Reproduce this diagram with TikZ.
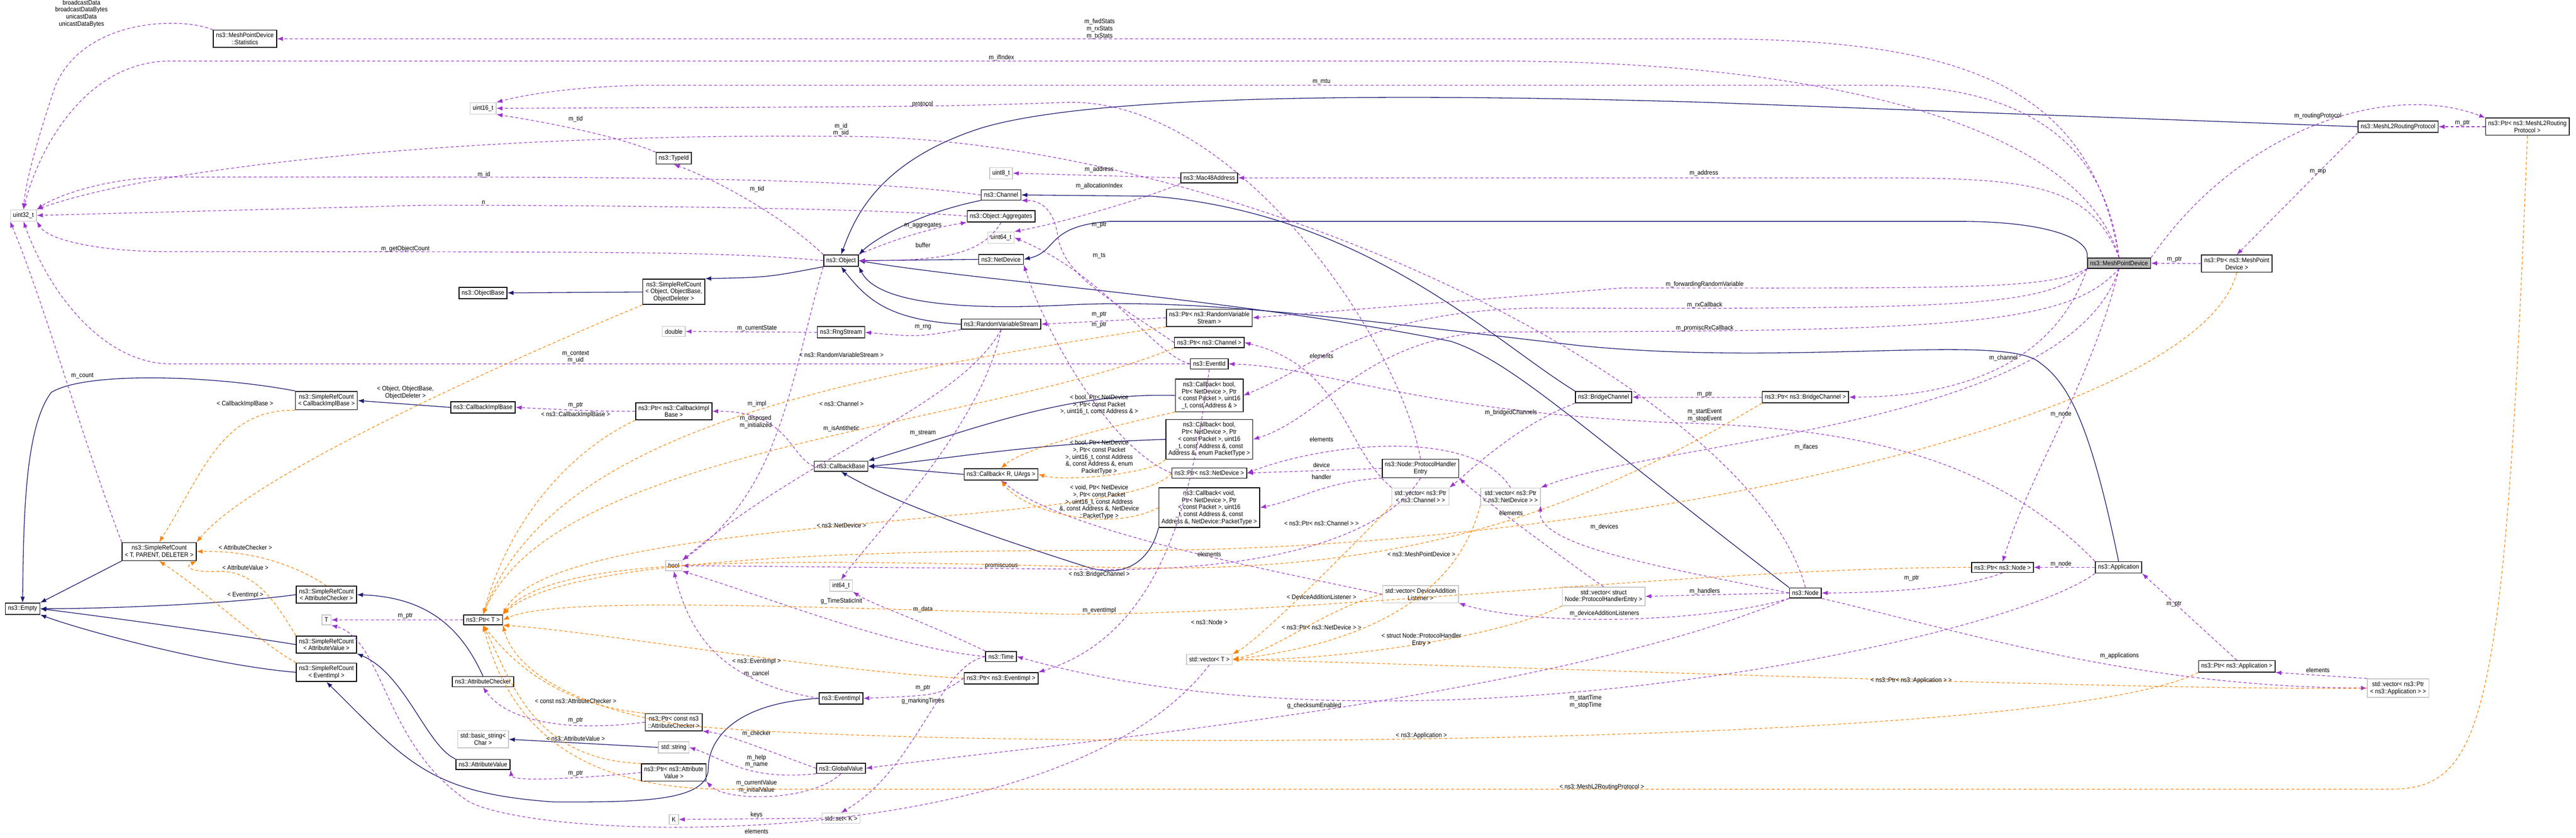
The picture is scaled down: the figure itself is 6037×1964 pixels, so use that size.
\documentclass[tikz,border=0pt]{standalone}
\usepackage{fontspec}
\setmainfont{Liberation Sans}[FakeStretch=0.9]
\usetikzlibrary{arrows.meta}
\begin{document}
\begin{tikzpicture}[x=0.01cm,y=-0.01cm,
  every node/.style={font=\fontsize{4.3}{4.7}\selectfont},
  cls/.style={draw=black,fill=white,line width=0.55pt,inner sep=1.8pt,minimum height=6.6pt,align=center},
  ext/.style={draw=gray!45,fill=white,line width=0.5pt,inner sep=1.8pt,minimum height=6.6pt,align=center},
  mainc/.style={cls,fill=gray!55},
  lab/.style={inner sep=0.5pt,align=center},
  inh/.style={draw={rgb,255:red,25;green,25;blue,112},line width=0.45pt,-{Latex[length=4pt,width=3pt]}},
  use/.style={draw={rgb,255:red,154;green,50;blue,205},line width=0.4pt,dash pattern=on 2pt off 1.5pt,-{Latex[length=4pt,width=3pt]}},
  tpl/.style={draw=orange,line width=0.4pt,dash pattern=on 2pt off 1.5pt,-{Latex[length=4pt,width=3pt]}}]
\useasboundingbox (0,0) rectangle (6037,1964);
% ---------- nodes
\node[cls] (stats) at (574,91) {ns3::MeshPointDevice\\::Statistics};
\node[ext] (u32) at (55,505) {uint32\_t};
\node[ext] (u16) at (1132,254) {uint16\_t};
\node[cls] (typeid) at (1579,371) {ns3::TypeId};
\node[ext] (u8) at (2346,406) {uint8\_t};
\node[cls] (mac) at (2834,417) {ns3::Mac48Address};
\node[cls] (chan) at (2346,457) {ns3::Channel};
\node[cls] (aggr) at (2346,507) {ns3::Object::Aggregates};
\node[ext] (u64) at (2346,557) {uint64\_t};
\node[cls] (obj) at (1971,611) {ns3::Object};
\node[cls] (netdev) at (2346,608) {ns3::NetDevice};
\node[cls] (objbase) at (1132,687) {ns3::ObjectBase};
\node[cls] (srcobj) at (1579,684) {ns3::SimpleRefCount\\{}< Object, ObjectBase,\\ObjectDeleter >};
\node[cls] (ptrrvs) at (2834,745) {ns3::Ptr< ns3::RandomVariable\\Stream >};
\node[cls] (rvs) at (2346,760) {ns3::RandomVariableStream};
\node[ext] (dbl) at (1579,777) {double};
\node[cls] (rng) at (1971,779) {ns3::RngStream};
\node[cls] (ptrchan) at (2834,803) {ns3::Ptr< ns3::Channel >};
\node[cls] (eventid) at (2834,853) {ns3::EventId};
\node[cls] (cbrx) at (2834,927) {ns3::Callback< bool,\\ Ptr< NetDevice >, Ptr\\{}< const Packet >, uint16\\\_t, const Address \& >};
\node[cls] (srccib) at (765,939) {ns3::SimpleRefCount\\{}< CallbackImplBase >};
\node[cls] (cib) at (1132,955) {ns3::CallbackImplBase};
\node[cls] (ptrcib) at (1579,964) {ns3::Ptr< ns3::CallbackImpl\\Base >};
\node[cls] (cbprom) at (2834,1030) {ns3::Callback< bool,\\ Ptr< NetDevice >, Ptr\\{}< const Packet >, uint16\\\_t, const Address \&, const\\ Address \&, enum PacketType >};
\node[cls] (cbbase) at (1971,1093) {ns3::CallbackBase};
\node[cls] (cbR) at (2346,1112) {ns3::Callback< R, UArgs >};
\node[cls] (ptrnd) at (2834,1109) {ns3::Ptr< ns3::NetDevice >};
\node[cls] (cbvoid) at (2834,1190) {ns3::Callback< void,\\ Ptr< NetDevice >, Ptr\\{}< const Packet >, uint16\\\_t, const Address \&, const\\ Address \&, NetDevice::PacketType >};
\node[cls] (phe) at (3329,1098) {ns3::Node::ProtocolHandler\\Entry};
\node[ext] (vecchan) at (3329,1164) {std::vector< ns3::Ptr\\{}< ns3::Channel > >};
\node[ext] (vecnd) at (3540,1164) {std::vector< ns3::Ptr\\{}< ns3::NetDevice > >};
\node[cls] (bridge) at (3758,931) {ns3::BridgeChannel};
\node[cls] (ptrbridge) at (4231,931) {ns3::Ptr< ns3::BridgeChannel >};
\node[mainc] (mpd) at (4966,617) {ns3::MeshPointDevice};
\node[cls] (ptrmpd) at (5242,618) {ns3::Ptr< ns3::MeshPoint\\Device >};
\node[cls] (l2) at (5620,297) {ns3::MeshL2RoutingProtocol};
\node[cls] (ptrl2) at (5923,297) {ns3::Ptr< ns3::MeshL2Routing\\Protocol >};
\node[cls] (srctpd) at (373,1293) {ns3::SimpleRefCount\\{}< T, PARENT, DELETER >};
\node[cls] (empty) at (53,1427) {ns3::Empty};
\node[cls] (srcac) at (765,1394) {ns3::SimpleRefCount\\{}< AttributeChecker >};
\node[ext] (T) at (765,1453) {T};
\node[cls] (ptrT) at (1132,1453) {ns3::Ptr< T >};
\node[cls] (srcav) at (765,1511) {ns3::SimpleRefCount\\{}< AttributeValue >};
\node[cls] (srcei) at (765,1576) {ns3::SimpleRefCount\\{}< EventImpl >};
\node[cls] (ac) at (1132,1598) {ns3::AttributeChecker};
\node[ext] (bstr) at (1132,1733) {std::basic\_string<\\ Char >};
\node[cls] (av) at (1132,1792) {ns3::AttributeValue};
\node[ext] (bool) at (1579,1326) {bool};
\node[ext] (i64) at (1971,1373) {int64\_t};
\node[cls] (time) at (2346,1539) {ns3::Time};
\node[cls] (ptrei) at (2346,1590) {ns3::Ptr< ns3::EventImpl >};
\node[ext] (vecT) at (2834,1546) {std::vector< T >};
\node[cls] (ei) at (1971,1637) {ns3::EventImpl};
\node[cls] (ptrcac) at (1579,1693) {ns3::Ptr< const ns3\\::AttributeChecker >};
\node[ext] (str) at (1579,1752) {std::string};
\node[cls] (gv) at (1971,1801) {ns3::GlobalValue};
\node[cls] (ptrav) at (1579,1811) {ns3::Ptr< ns3::Attribute\\Value >};
\node[ext] (set) at (1971,1918) {std::set< K >};
\node[ext] (K) at (1579,1921) {K};
\node[ext] (vecdal) at (3329,1393) {std::vector< DeviceAddition\\Listener >};
\node[ext] (vecphe) at (3758,1398) {std::vector< struct\\ Node::ProtocolHandlerEntry >};
\node[cls] (node) at (4231,1390) {ns3::Node};
\node[cls] (ptrnode) at (4693,1330) {ns3::Ptr< ns3::Node >};
\node[cls] (app) at (4965,1330) {ns3::Application};
\node[cls] (ptrapp) at (5242,1562) {ns3::Ptr< ns3::Application >};
\node[ext] (vecapp) at (5620,1613) {std::vector< ns3::Ptr\\{}< ns3::Application > >};
% ---------- inheritance
\draw[inh] (srcobj) -- (objbase);
\draw[inh] (obj.south west) .. controls (1800,650) .. (srcobj.north east);
\draw[inh] (chan.south west) .. controls (2150,500) and (2050,560) .. (obj.north east);
\draw[inh] (netdev.west) -- (obj.east);
\draw[inh] (rvs.west) .. controls (2080,750) and (2030,700) .. (obj.south);
\draw[inh] (l2.west) -- (4000,240) .. controls (3000,210) and (2500,240) .. (2300,300) .. controls (2050,380) and (2000,520) .. (obj.north);
\draw[inh] (node.north west) .. controls (3700,1000) and (3550,850) .. (3400,800) .. controls (2900,700) and (2300,660) .. (obj.east);
\draw[inh] (app.north) .. controls (4900,1000) and (4850,900) .. (4780,850) .. controls (4700,780) and (4200,860) .. (3700,810) .. controls (3100,740) and (2800,700) .. (2500,715) .. controls (2200,730) and (2050,700) .. (obj.south east);
\draw[inh] (bridge.north west) .. controls (3500,800) and (3200,500) .. (2700,460) -- (chan.east);
\draw[inh] (mpd.north west) .. controls (4900,560) and (4800,520) .. (4600,519) -- (2600,519) .. controls (2450,530) and (2480,590) .. (netdev.east);
\draw[inh] (cib.west) -- (srccib.east);
\draw[inh] (srccib.north west) .. controls (500,880) and (200,870) .. (120,920) .. controls (60,1000) and (55,1200) .. (empty.north);
\draw[inh] (srctpd.south west) -- (empty.north east);
\draw[inh] (srcac.west) .. controls (500,1420) and (200,1427) .. (empty.east);
\draw[inh] (srcav.west) .. controls (500,1480) and (200,1440) .. (empty.east);
\draw[inh] (srcei.west) .. controls (500,1560) and (200,1480) .. (empty.south east);
\draw[inh] (ac.north) .. controls (1080,1470) and (1000,1400) .. (srcac.east);
\draw[inh] (av.north west) .. controls (1000,1750) and (950,1580) .. (srcav.south east);
\draw[inh] (ei.west) .. controls (1700,1650) and (1660,1750) .. (1660,1800) .. controls (1660,1880) and (1500,1880) .. (1300,1880) .. controls (1000,1860) and (950,1780) .. (srcei.south);
\draw[inh] (str.west) -- (bstr.east);
\draw[inh] (cbrx.west) .. controls (2500,920) and (2300,1000) .. (cbbase.north east);
\draw[inh] (cbprom.west) .. controls (2400,1040) and (2200,1080) .. (cbbase.east);
\draw[inh] (cbR.west) -- (cbbase.east);
\draw[inh] (cbvoid.south west) .. controls (2700,1300) and (2650,1360) .. (2550,1330) .. controls (2300,1250) and (2100,1180) .. (cbbase.south);
% ---------- use (purple)
\draw[use] (mpd.north) .. controls (4900,200) and (4600,91) .. (4000,91) -- (stats.east);
\node[lab] (l1) at (2577,68) {m\_fwdStats\\m\_rxStats\\m\_txStats};
\draw[use] (stats.north west) .. controls (430,40) and (200,40) .. (130,200) .. controls (80,350) and (60,430) .. (u32.north);
\node[lab] (l2lab) at (191,32) {broadcastData\\broadcastDataBytes\\unicastData\\unicastDataBytes};
\draw[use] (mpd.north) .. controls (4880,300) and (4300,143) .. (3500,143) -- (400,143) .. controls (200,143) and (90,350) .. (u32.north);
\node[lab] (l3) at (2347,135) {m\_ifIndex};
\draw[use] (mpd.north) .. controls (4930,300) and (4700,200) .. (4400,200) -- (1500,200) .. controls (1300,205) and (1200,230) .. (u16.north east);
\node[lab] (l4) at (3097,192) {m\_mtu};
\draw[use] (phe.north) .. controls (3280,800) and (2900,230) .. (2500,240) .. controls (2200,250) .. (u16.east);
\node[lab] (l5) at (2162,244) {protocol};
\draw[use] (node.north) .. controls (4100,900) and (2900,330) .. (2000,320) .. controls (1200,310) and (400,380) .. (u32.north east);
\node[lab] (l6) at (1971,304) {m\_id\\m\_sid};
\draw[use] (typeid.north west) .. controls (1450,320) and (1300,290) .. (u16.south east);
\node[lab] (l7) at (1349,279) {m\_tid};
\draw[use] (obj.north west) .. controls (1850,520) and (1700,430) .. (typeid.south);
\node[lab] (l8) at (1774,443) {m\_tid};
\draw[use] (mpd.north) .. controls (4900,430) and (4750,417) .. (4400,417) -- (mac.east);
\node[lab] (l9) at (3993,406) {m\_address};
\draw[use] (mac.west) -- (u8.east);
\node[lab] (l10) at (2576,398) {m\_address};
\draw[use] (mac.south west) .. controls (2700,460) and (2500,520) .. (u64.north east);
\node[lab] (l11) at (2576,436) {m\_allocationIndex};
\draw[use] (chan.west) .. controls (2100,430) and (1800,415) .. (1000,415) -- (400,415) .. controls (250,415) and (130,460) .. (u32.north east);
\node[lab] (l12) at (1134,410) {m\_id};
\draw[use] (aggr.west) .. controls (2100,490) and (1500,481) .. (1000,481) -- (u32.east);
\node[lab] (l13) at (1133,475) {n};
\draw[use] (obj.north east) .. controls (2050,580) and (2150,540) .. (aggr.south west);
\node[lab] (l14) at (2163,529) {m\_aggregates};
\draw[use] (aggr.south) .. controls (2300,600) and (2200,611) .. (obj.east);
\node[lab] (l15) at (2163,575) {buffer};
\draw[use] (obj.west) .. controls (1700,590) and (1500,590) .. (400,590) .. controls (220,590) and (110,560) .. (u32.south east);
\node[lab] (l16) at (950,584) {m\_getObjectCount};
\draw[use] (ptrchan.west) .. controls (2600,700) and (2500,650) .. (2480,560) .. controls (2470,480) and (2430,470) .. (chan.south east);
\node[lab] (l17) at (2576,527) {m\_ptr};
\draw[use] (eventid.west) .. controls (2700,830) and (2600,650) .. (u64.east);
\node[lab] (l18) at (2576,600) {m\_ts};
\draw[use] (ptrnd.west) .. controls (2600,1050) and (2450,780) .. (netdev.south east);
\node[lab] (l19) at (2576,762) {m\_ptr};
\draw[use] (mpd.south west) .. controls (4800,680) and (4600,675) .. (3800,675) -- (ptrrvs.east);
\node[lab] (l20) at (3995,667) {m\_forwardingRandomVariable};
\draw[use] (mpd.south west) .. controls (4800,720) and (4600,725) .. (3600,722) .. controls (3200,730) and (3100,850) .. (cbrx.east);
\node[lab] (l21) at (3995,715) {m\_rxCallback};
\draw[use] (mpd.south) .. controls (4850,760) and (4600,778) .. (3500,778) .. controls (3200,790) and (3100,980) .. (cbprom.east);
\node[lab] (l22) at (3995,770) {m\_promiscRxCallback};
\draw[use] (ptrrvs.west) -- (rvs.east);
\node[lab] (l23) at (2576,737) {m\_ptr};
\draw[use] (rvs.south west) .. controls (2150,790) .. (rng.east);
\node[lab] (l24) at (2163,767) {m\_rng};
\draw[use] (rng.west) -- (dbl.east);
\node[lab] (l25) at (1774,769) {m\_currentState};
\draw[use] (rvs.south) .. controls (2250,950) and (1900,1060) .. (bool.north east);
\node[lab] (l26) at (1972,1005) {m\_isAntithetic};
\draw[use] (rvs.south) .. controls (2300,1000) and (2050,1250) .. (i64.north);
\node[lab] (l27) at (2163,1015) {m\_stream};
\draw[use] (eventid.west) -- (400,853) .. controls (250,853) and (120,700) .. (u32.south);
\node[lab] (l28) at (1349,837) {m\_context\\m\_uid};
\draw[use] (srctpd.north west) .. controls (200,1050) and (100,700) .. (u32.south west);
\node[lab] (l29) at (193,881) {m\_count};
\draw[use] (ptrcib.west) .. controls (1400,964) .. (cib.east);
\node[lab] (l30) at (1349,950) {m\_ptr};
\draw[use] (cbbase.west) .. controls (1850,1070) and (1850,964) .. (ptrcib.east);
\node[lab] (l31) at (1774,947) {m\_impl};
\draw[use] (obj.south west) .. controls (1850,900) and (1830,1150) .. (bool.north east);
\node[lab] (l32) at (1771,989) {m\_disposed\\m\_initialized};
\draw[use] (ptrT.west) -- (T.east);
\node[lab] (l33) at (950,1444) {m\_ptr};
\draw[use] (ptrcac.west) .. controls (1300,1720) and (1180,1680) .. (ac.south);
\node[lab] (l34) at (1349,1689) {m\_ptr};
\draw[use] (ptrav.west) .. controls (1300,1830) and (1200,1830) .. (av.south east);
\node[lab] (l35) at (1349,1813) {m\_ptr};
\draw[use] (time.north west) .. controls (2150,1450) and (2050,1420) .. (i64.south east);
\node[lab] (l36) at (2163,1428) {m\_data};
\draw[use] (time.west) .. controls (2100,1520) and (1800,1400) .. (bool.south east);
\node[lab] (l37) at (1972,1409) {g\_TimeStaticInit};
\draw[use] (time.west) .. controls (2200,1560) and (2150,1800) .. (set.north);
\node[lab] (l38) at (2163,1644) {g\_markingTimes};
\draw[use] (ei.west) .. controls (1700,1600) and (1620,1500) .. (bool.south);
\node[lab] (l39) at (1773,1579) {m\_cancel};
\draw[use] (ptrei.west) .. controls (2200,1630) .. (ei.east);
\node[lab] (l40) at (2163,1613) {m\_ptr};
\draw[use] (eventid.south) .. controls (2800,1100) and (2750,1480) .. (ptrei.north east);
\node[lab] (l41) at (2576,1431) {m\_eventImpl};
\draw[use] (phe.south) .. controls (3250,1250) and (3000,1335) .. (2600,1335) -- (bool.east);
\node[lab] (l42) at (2347,1326) {promiscuous};
\draw[use] (gv.west) .. controls (1800,1760) and (1700,1720) .. (ptrcac.south east);
\node[lab] (l43) at (1773,1719) {m\_checker};
\draw[use] (gv.south west) .. controls (1750,1830) and (1700,1780) .. (str.east);
\node[lab] (l44) at (1773,1784) {m\_help\\m\_name};
\draw[use] (gv.south) .. controls (1900,1880) and (1700,1880) .. (ptrav.south east);
\node[lab] (l45) at (1773,1844) {m\_currentValue\\m\_initialValue};
\draw[use] (set.west) -- (K.east);
\node[lab] (l46) at (1773,1911) {keys};
\draw[use] (vecT.south) .. controls (2500,2000) and (1300,1980) .. (1100,1880) .. controls (900,1750) and (900,1500) .. (T.south east);
\node[lab] (l47) at (1773,1949) {elements};
\draw[use] (node.south west) .. controls (3600,1650) and (2400,1750) .. (gv.east);
\node[lab] (l48) at (3080,1654) {g\_checksumEnabled};
\draw[use] (app.south west) .. controls (4700,1500) and (3300,1800) .. (time.east);
\node[lab] (l49) at (3716,1645) {m\_startTime\\m\_stopTime};
\draw[use] (app.west) -- (ptrnode.east);
\node[lab] (l50) at (4830,1322) {m\_node};
\draw[use] (ptrnode.south) .. controls (4600,1380) and (4400,1390) .. (node.east);
\node[lab] (l51) at (4480,1356) {m\_ptr};
\draw[use] (mpd.south) .. controls (4900,900) and (4760,1100) .. (ptrnode.north);
\node[lab] (l52) at (4830,971) {m\_node};
\draw[use] (node.south east) .. controls (4600,1480) and (5000,1610) .. (vecapp.west);
\node[lab] (l53) at (4967,1537) {m\_applications};
\draw[use] (ptrapp.north) -- (app.south east);
\node[lab] (l54) at (5095,1416) {m\_ptr};
\draw[use] (vecapp.north west) -- (ptrapp.south east);
\node[lab] (l55) at (5432,1571) {elements};
\draw[use] (app.north west) .. controls (4650,1050) and (4300,1000) .. (3900,990) .. controls (3300,960) and (3100,860) .. (eventid.east);
\node[lab] (l56) at (3995,974) {m\_startEvent\\m\_stopEvent};
\draw[use] (mpd.north east) .. controls (5250,300) and (5600,190) .. (ptrl2.north west);
\node[lab] (l57) at (5432,272) {m\_routingProtocol};
\draw[use] (ptrl2.west) -- (l2.east);
\node[lab] (l58) at (5771,288) {m\_ptr};
\draw[use] (l2.south west) -- (ptrmpd.north);
\node[lab] (l59) at (5432,403) {m\_mp};
\draw[use] (ptrmpd.west) -- (mpd.east);
\node[lab] (l60) at (5096,608) {m\_ptr};
\draw[use] (mpd.south west) .. controls (4800,900) and (4500,931) .. (ptrbridge.east);
\node[lab] (l61) at (4695,839) {m\_channel};
\draw[use] (ptrbridge.west) -- (bridge.east);
\node[lab] (l62) at (3995,924) {m\_ptr};
\draw[use] (bridge.south west) .. controls (3550,1000) and (3450,1100) .. (vecchan.north east);
\node[lab] (l63) at (3541,968) {m\_bridgedChannels};
\draw[use] (vecchan.north west) .. controls (3150,1050) and (3150,860) .. (ptrchan.east);
\node[lab] (l64) at (3097,834) {elements};
\draw[use] (vecnd.north) .. controls (3450,1000) and (3100,1040) .. (ptrnd.east);
\node[lab] (l65) at (3097,1030) {elements};
\draw[use] (phe.west) -- (ptrnd.east);
\node[lab] (l66) at (3097,1090) {device};
\draw[use] (phe.south west) .. controls (3100,1130) and (3050,1170) .. (cbvoid.east);
\node[lab] (l67) at (3097,1118) {handler};
\draw[use] (mpd.south) .. controls (4850,1000) and (3900,1030) .. (vecnd.north east);
\node[lab] (l68) at (4233,1048) {m\_ifaces};
\draw[use] (node.west) .. controls (3900,1330) and (3600,1280) .. (vecnd.south east);
\node[lab] (l69) at (3760,1235) {m\_devices};
\draw[use] (node.west) -- (vecphe.east);
\node[lab] (l70) at (3995,1386) {m\_handlers};
\draw[use] (node.south west) .. controls (4000,1460) and (3600,1470) .. (vecdal.south east);
\node[lab] (l71) at (3760,1438) {m\_deviceAdditionListeners};
\draw[use] (vecphe.north) .. controls (3650,1300) and (3450,1150) .. (phe.south east);
\node[lab] (l72) at (3541,1203) {elements};
\draw[use] (vecdal.west) .. controls (3000,1340) and (2500,1250) .. (cbR.south);
\node[lab] (l73) at (2834,1299) {elements};
% ---------- templates (orange)
\draw[tpl] (srcobj.south west) .. controls (1300,800) and (600,1100) .. (srctpd.north east);
\node[lab] (t1) at (950,920) {< Object, ObjectBase,\\ObjectDeleter >};
\draw[tpl] (srccib.south west) .. controls (520,960) and (480,1100) .. (srctpd.north);
\node[lab] (t2) at (574,947) {< CallbackImplBase >};
\draw[tpl] (srcac.north) .. controls (700,1330) and (600,1290) .. (srctpd.east);
\node[lab] (t3) at (575,1283) {< AttributeChecker >};
\draw[tpl] (srcav.north west) .. controls (650,1420) and (600,1330) .. (500,1340) .. controls (450,1340) and (430,1330) .. (srctpd.south east);
\node[lab] (t4) at (575,1331) {< AttributeValue >};
\draw[tpl] (srcei.north west) .. controls (600,1500) and (500,1400) .. (srctpd.south);
\node[lab] (t5) at (575,1395) {< EventImpl >};
\draw[tpl] (ptrrvs.south west) .. controls (2000,880) and (1300,1000) .. (ptrT.north);
\node[lab] (t6) at (1972,832) {< ns3::RandomVariableStream >};
\draw[tpl] (ptrchan.south west) .. controls (2300,1000) and (1300,1050) .. (ptrT.north);
\node[lab] (t7) at (1972,947) {< ns3::Channel >};
\draw[tpl] (ptrnd.west) .. controls (2650,1240) and (1300,1200) .. (ptrT.north east);
\node[lab] (t8) at (1972,1232) {< ns3::NetDevice >};
\draw[tpl] (ptrbridge.south west) .. controls (3700,1200) and (3300,1350) .. (2600,1330) .. controls (1800,1310) and (1300,1300) .. (ptrT.north east);
\node[lab] (t9) at (2576,1346) {< ns3::BridgeChannel >};
\draw[tpl] (ptrnode.west) .. controls (4000,1330) and (3100,1440) .. (2500,1440) .. controls (1800,1420) and (1300,1400) .. (ptrT.east);
\node[lab] (t10) at (2834,1459) {< ns3::Node >};
\draw[tpl] (ptrei.west) .. controls (1900,1570) and (1400,1480) .. (ptrT.south east);
\node[lab] (t11) at (1773,1551) {< ns3::EventImpl >};
\draw[tpl] (ptrcib.south west) .. controls (1350,1050) and (1200,1200) .. (ptrT.north);
\node[lab] (t12) at (1349,972) {< ns3::CallbackImplBase >};
\draw[tpl] (ptrcac.north west) .. controls (1300,1650) and (1200,1550) .. (ptrT.south);
\node[lab] (t13) at (1349,1643) {< const ns3::AttributeChecker >};
\draw[tpl] (ptrav.north west) .. controls (1250,1780) and (1200,1600) .. (ptrT.south);
\node[lab] (t14) at (1349,1731) {< ns3::AttributeValue >};
\draw[tpl] (ptrmpd.south) .. controls (5150,1000) and (3700,1300) .. (2600,1290) .. controls (1800,1290) and (1300,1330) .. (ptrT.north east);
\node[lab] (t15) at (3331,1299) {< ns3::MeshPointDevice >};
\draw[tpl] (ptrapp.south west) .. controls (4800,1760) and (2200,1760) .. (1600,1700) .. controls (1300,1650) and (1200,1550) .. (ptrT.south east);
\node[lab] (t16) at (3331,1725) {< ns3::Application >};
\draw[tpl] (ptrl2.south) .. controls (5870,1700) and (5820,1850) .. (5600,1850) -- (1700,1850) .. controls (1300,1850) and (1180,1650) .. (ptrT.south);
\node[lab] (t17) at (3754,1845) {< ns3::MeshL2RoutingProtocol >};
\draw[tpl] (cbrx.south west) .. controls (2600,1000) and (2400,1050) .. (cbR.north);
\node[lab] (t18) at (2576,949) {< bool, Ptr< NetDevice\\>, Ptr< const Packet\\>, uint16\_t, const Address \& >};
\draw[tpl] (cbprom.south west) .. controls (2700,1110) and (2500,1130) .. (cbR.east);
\node[lab] (t19) at (2576,1072) {< bool, Ptr< NetDevice\\>, Ptr< const Packet\\>, uint16\_t, const Address\\\&, const Address \&, enum\\PacketType >};
\draw[tpl] (cbvoid.west) .. controls (2600,1250) and (2400,1200) .. (cbR.south);
\node[lab] (t20) at (2576,1177) {< void, Ptr< NetDevice\\>, Ptr< const Packet\\>, uint16\_t, const Address\\\&, const Address \&, NetDevice\\::PacketType >};
\draw[tpl] (vecchan.south west) .. controls (3150,1300) and (2950,1500) .. (vecT.north east);
\node[lab] (t21) at (3097,1227) {< ns3::Ptr< ns3::Channel > >};
\draw[tpl] (vecnd.south west) .. controls (3400,1450) and (3100,1520) .. (vecT.east);
\node[lab] (t22) at (3097,1471) {< ns3::Ptr< ns3::NetDevice > >};
\draw[tpl] (vecdal.west) .. controls (3100,1430) and (3000,1520) .. (vecT.east);
\node[lab] (t23) at (3097,1399) {< DeviceAdditionListener >};
\draw[tpl] (vecphe.south west) .. controls (3500,1500) and (3100,1550) .. (vecT.east);
\node[lab] (t24) at (3331,1500) {< struct Node::ProtocolHandler\\Entry >};
\draw[tpl] (vecapp.west) .. controls (5000,1620) and (3500,1560) .. (vecT.east);
\node[lab] (t25) at (4479,1595) {< ns3::Ptr< ns3::Application > >};
\end{tikzpicture}
\end{document}
